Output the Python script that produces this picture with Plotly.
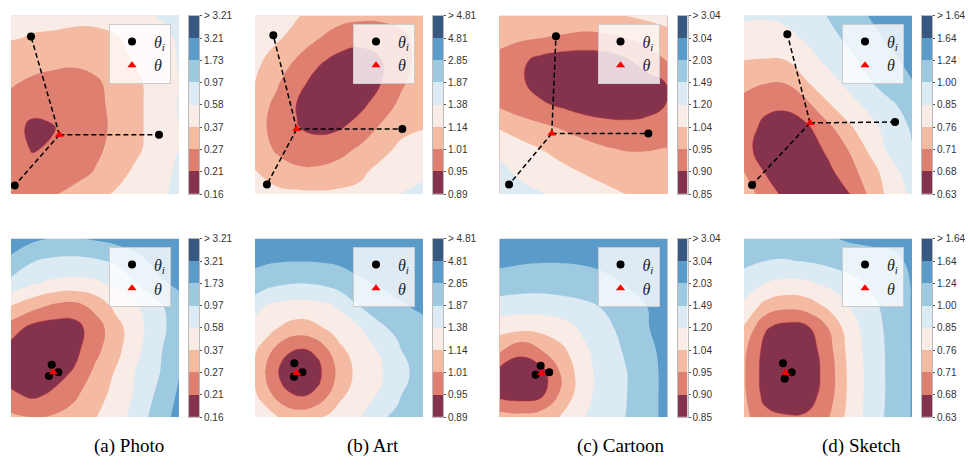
import numpy as np
import plotly.graph_objects as go

W, H = 968, 465

# ---------------- data ----------------
grid_x = [0.0, 0.125, 0.25, 0.375, 0.5, 0.625, 0.75, 0.875, 1.0]
grid_y = [1.0, 0.875, 0.75, 0.625, 0.5, 0.375, 0.25, 0.125, 0.0]  # rows below listed top -> bottom
# finer sampling used for the Art (bottom) landscape
fine_x = [0.0, 0.0625, 0.125, 0.1875, 0.25, 0.3125, 0.375, 0.4375, 0.5, 0.625, 0.75, 0.875, 1.0]
fine_y = [1.0, 0.875, 0.75, 0.625, 0.5, 0.4375, 0.375, 0.3125, 0.25, 0.1875, 0.125, 0.0625, 0.0]

# band colours (lowest loss -> highest loss)
band_colors = ["#85334c", "#de7f70", "#f5bba2", "#f9ebe5",
               "#dbeaf3", "#9dcae1", "#5a9bc9", "#375981"]

photo_ticks = ["0.16", "0.21", "0.27", "0.37", "0.58", "0.97", "1.73", "3.21", "> 3.21"]
art_ticks = ["0.89", "0.95", "1.01", "1.14", "1.38", "1.87", "2.85", "4.81", "> 4.81"]
cartoon_ticks = ["0.85", "0.90", "0.95", "1.04", "1.20", "1.49", "2.03", "3.04", "> 3.04"]
sketch_ticks = ["0.63", "0.68", "0.71", "0.76", "0.85", "1.00", "1.24", "1.64", "> 1.64"]

captions = ["(a) Photo", "(b) Art", "(c) Cartoon", "(d) Sketch"]

# loss landscape, expressed in colour-band position (0 = lowest band ... 8 = top of colourbar)
photo_top_level = [
    [3.25, 3.2, 3.2, 3.15, 3.15, 3.25, 3.5, 4.05, 4.3],
    [3.05, 2.95, 2.9, 2.85, 2.85, 2.95, 3.2, 3.7, 4.1],
    [2.6, 2.35, 2.2, 2.15, 2.3, 2.75, 3.1, 3.55, 4.05],
    [2.1, 1.85, 1.75, 1.7, 1.85, 2.3, 2.85, 3.4, 4.0],
    [1.7, 1.5, 1.35, 1.45, 1.75, 2.25, 2.8, 3.45, 4.05],
    [1.6, 0.7, 0.95, 1.4, 1.7, 2.2, 2.8, 3.45, 4.0],
    [1.45, 0.95, 1.1, 1.4, 1.8, 2.3, 2.85, 3.45, 4.0],
    [1.5, 1.3, 1.4, 1.6, 2.05, 2.65, 3.2, 3.7, 4.15],
    [1.6, 1.7, 1.9, 2.3, 2.75, 3.1, 3.45, 3.8, 4.2],
]
art_top_level = [
    [4.05, 3.6, 3.05, 2.7, 2.4, 2.25, 2.25, 2.35, 2.65],
    [3.55, 3.15, 2.65, 2.05, 1.5, 1.25, 1.35, 1.8, 2.4],
    [3.25, 2.6, 1.9, 1.16, 0.74, 0.67, 0.98, 1.67, 2.38],
    [3.0, 2.16, 1.3, 0.66, 0.2, 0.48, 1.0, 1.86, 2.57],
    [2.55, 1.78, 0.96, 0.48, 0.35, 0.77, 1.46, 2.27, 2.8],
    [2.4, 1.68, 1.03, 0.79, 0.89, 1.38, 2.12, 2.73, 2.95],
    [2.55, 1.9, 1.5, 1.41, 1.68, 2.16, 2.7, 3.25, 3.4],
    [3.05, 2.45, 2.2, 2.2, 2.4, 2.8, 3.3, 3.55, 3.8],
    [3.45, 3.3, 3.2, 3.15, 3.2, 3.25, 3.4, 4.05, 4.3],
]
cartoon_top_level = [
    [2.8, 2.65, 2.55, 2.55, 2.6, 2.75, 3.0, 3.2, 3.4],
    [2.3, 2.15, 2.0, 1.9, 1.75, 1.8, 2.0, 2.3, 2.6],
    [1.7, 1.2, 0.7, 0.45, 0.4, 0.5, 0.85, 1.5, 2.05],
    [1.4, 1.15, 0.55, 0.35, 0.3, 0.3, 0.4, 0.6, 1.05],
    [1.85, 1.4, 1.15, 0.85, 0.55, 0.4, 0.4, 0.6, 1.05],
    [2.9, 2.55, 2.2, 1.9, 1.6, 1.4, 1.3, 1.35, 1.55],
    [3.85, 3.35, 3.0, 2.7, 2.35, 2.1, 1.95, 1.95, 2.05],
    [4.2, 3.85, 3.5, 3.2, 2.95, 2.75, 2.6, 2.6, 2.65],
    [4.3, 4.2, 4.05, 3.75, 3.45, 3.2, 3.0, 2.9, 2.9],
]
sketch_top_level = [
    [4.15, 4.1, 4.2, 4.4, 5.05, 5.55, 6.05, 6.5, 6.8],
    [3.6, 3.55, 3.75, 4.15, 4.7, 5.2, 5.7, 6.2, 6.5],
    [3.0, 2.95, 3.0, 3.6, 4.25, 4.8, 5.3, 5.8, 6.3],
    [2.35, 2.05, 2.05, 2.95, 3.55, 4.3, 4.95, 5.5, 5.95],
    [1.6, 1.2, 1.2, 1.75, 2.9, 3.6, 4.3, 4.85, 5.4],
    [1.4, 0.8, 0.5, 0.85, 1.75, 2.85, 3.65, 4.5, 5.1],
    [1.3, 0.6, 0.35, 0.45, 1.2, 2.05, 3.2, 4.3, 4.95],
    [2.0, 0.95, 0.4, 0.35, 0.75, 1.6, 2.55, 3.6, 4.6],
    [2.5, 1.6, 0.7, 0.4, 0.6, 0.95, 2.2, 3.4, 4.2],
]
photo_bottom_level = [
    [6.5, 6.2, 5.95, 5.9, 6.1, 6.3, 6.45, 6.6, 6.7],
    [5.8, 5.05, 4.8, 4.75, 4.85, 5.15, 5.75, 6.25, 6.5],
    [4.7, 4.1, 3.8, 3.7, 3.8, 4.2, 5.0, 5.8, 6.2],
    [3.0, 2.4, 1.85, 1.65, 2.3, 3.3, 3.95, 4.8, 5.6],
    [1.5, 0.7, 0.5, 0.6, 1.5, 2.6, 3.7, 4.6, 5.6],
    [0.6, 0.4, 0.3, 0.7, 1.7, 2.7, 3.8, 4.8, 5.8],
    [0.5, 0.35, 0.6, 1.1, 2.2, 3.1, 4.1, 4.9, 5.95],
    [1.2, 0.8, 1.15, 1.8, 2.6, 3.3, 4.2, 5.2, 6.15],
    [2.2, 2.0, 2.1, 2.4, 2.95, 3.6, 4.4, 5.55, 6.3],
]
art_bottom_level = [
    [6.59, 6.53, 6.48, 6.45, 6.43, 6.44, 6.46, 6.5, 6.55, 6.68, 6.8, 6.88, 6.9],
    [6.2, 6.13, 6.07, 6.03, 6.02, 6.02, 6.05, 6.09, 6.15, 6.31, 6.44, 6.57, 6.69],
    [5.57, 5.35, 5.17, 5.06, 5.0, 5.02, 5.09, 5.23, 5.42, 5.87, 6.11, 6.26, 6.39],
    [4.46, 3.99, 3.81, 3.69, 3.64, 3.65, 3.73, 3.87, 4.14, 5.05, 5.53, 5.95, 6.13],
    [3.59, 3.3, 3.06, 2.76, 2.58, 2.62, 2.87, 3.14, 3.4, 3.95, 4.84, 5.39, 5.81],
    [3.33, 3.0, 2.39, 1.93, 1.72, 1.77, 2.07, 2.59, 3.11, 3.72, 4.43, 5.18, 5.62],
    [3.12, 2.46, 1.75, 1.2, 0.94, 0.98, 1.37, 1.99, 2.74, 3.55, 4.12, 5.02, 5.48],
    [2.96, 2.1, 1.3, 0.77, 0.49, 0.56, 0.9, 1.59, 2.4, 3.44, 3.96, 4.86, 5.39],
    [2.86, 1.97, 1.13, 0.61, 0.15, 0.31, 0.78, 1.43, 2.29, 3.4, 3.93, 4.8, 5.36],
    [2.96, 2.1, 1.3, 0.77, 0.49, 0.56, 0.9, 1.59, 2.4, 3.44, 3.96, 4.86, 5.39],
    [3.12, 2.46, 1.75, 1.2, 0.94, 0.98, 1.37, 1.99, 2.74, 3.55, 4.12, 5.02, 5.48],
    [3.33, 3.0, 2.39, 1.93, 1.72, 1.77, 2.07, 2.59, 3.11, 3.72, 4.43, 5.18, 5.62],
    [3.59, 3.3, 3.06, 2.76, 2.58, 2.62, 2.87, 3.14, 3.4, 3.95, 4.84, 5.39, 5.81],
]
cartoon_bottom_level = [
    [6.6, 6.5, 6.45, 6.45, 6.5, 6.6, 6.7, 6.8, 6.9],
    [6.2, 6.1, 6.05, 6.05, 6.1, 6.25, 6.4, 6.55, 6.7],
    [5.6, 5.5, 5.45, 5.5, 5.6, 5.75, 6.05, 6.3, 6.5],
    [4.55, 4.45, 4.45, 4.6, 4.8, 5.1, 5.5, 6.0, 6.35],
    [3.4, 3.3, 3.35, 3.6, 4.2, 4.75, 5.3, 5.95, 6.3],
    [2.2, 1.25, 2.0, 2.8, 3.8, 4.55, 5.1, 5.75, 6.3],
    [0.6, 0.4, 0.6, 2.2, 3.6, 4.45, 4.95, 5.6, 6.3],
    [0.7, 0.5, 0.8, 2.3, 3.65, 4.45, 4.95, 5.6, 6.3],
    [2.4, 2.3, 2.5, 3.1, 3.95, 4.55, 5.0, 5.6, 6.3],
]
sketch_bottom_level = [
    [5.3, 5.35, 5.45, 5.65, 5.9, 6.1, 6.15, 6.15, 6.2],
    [5.2, 5.0, 4.95, 5.05, 5.25, 5.5, 5.7, 5.85, 6.1],
    [4.6, 4.0, 3.75, 3.85, 4.2, 4.65, 5.1, 5.5, 6.05],
    [3.75, 2.7, 2.3, 2.5, 3.2, 4.0, 4.75, 5.35, 6.05],
    [2.9, 1.1, 0.6, 0.8, 2.0, 3.5, 4.5, 5.3, 6.05],
    [2.2, 0.7, 0.3, 0.4, 1.6, 3.3, 4.4, 5.25, 6.05],
    [2.1, 0.6, 0.2, 0.35, 1.4, 3.2, 4.35, 5.25, 6.05],
    [2.15, 0.7, 0.3, 0.5, 1.5, 3.2, 4.35, 5.25, 6.05],
    [2.3, 1.3, 1.1, 1.15, 1.9, 3.3, 4.4, 5.3, 6.05],
]

# client models (theta_i) and aggregated model (theta), in plane coordinates
photo_top_clients_x = [0.119, 0.881, 0.022]
photo_top_clients_y = [0.884, 0.333, 0.048]
photo_top_global = [0.288, 0.333]
art_top_clients_x = [0.109, 0.877, 0.071]
art_top_clients_y = [0.891, 0.364, 0.053]
art_top_global = [0.248, 0.364]
cartoon_top_clients_x = [0.336, 0.886, 0.057]
cartoon_top_clients_y = [0.885, 0.339, 0.053]
cartoon_top_global = [0.311, 0.339]
sketch_top_clients_x = [0.258, 0.899, 0.048]
sketch_top_clients_y = [0.896, 0.404, 0.051]
sketch_top_global = [0.393, 0.399]

photo_bottom_clients_x = [0.242, 0.282, 0.226]
photo_bottom_clients_y = [0.293, 0.251, 0.230]
photo_bottom_global = [0.252, 0.251]
art_bottom_clients_x = [0.234, 0.282, 0.232]
art_bottom_clients_y = [0.302, 0.251, 0.226]
art_bottom_global = [0.248, 0.248]
cartoon_bottom_clients_x = [0.245, 0.296, 0.215]
cartoon_bottom_clients_y = [0.288, 0.251, 0.237]
cartoon_bottom_global = [0.251, 0.248]
sketch_bottom_clients_x = [0.232, 0.284, 0.242]
sketch_bottom_clients_y = [0.302, 0.251, 0.215]
sketch_bottom_global = [0.248, 0.248]

# ---------------- layout geometry (pixels) ----------------
col_left = [11, 255, 499.5, 744]
row_top = [10, 239]
plot_w, plot_h = 168, 183
cb_gap, cb_w = 10, 10
caption_x = [129, 373, 621, 861]
caption_y = 452

panels = [
    (photo_top_level, grid_x, grid_y, photo_ticks, photo_top_clients_x, photo_top_clients_y, photo_top_global, 0, 0, True),
    (art_top_level, grid_x, grid_y, art_ticks, art_top_clients_x, art_top_clients_y, art_top_global, 1, 0, True),
    (cartoon_top_level, grid_x, grid_y, cartoon_ticks, cartoon_top_clients_x, cartoon_top_clients_y, cartoon_top_global, 2, 0, True),
    (sketch_top_level, grid_x, grid_y, sketch_ticks, sketch_top_clients_x, sketch_top_clients_y, sketch_top_global, 3, 0, True),
    (photo_bottom_level, grid_x, grid_y, photo_ticks, photo_bottom_clients_x, photo_bottom_clients_y, photo_bottom_global, 0, 1, False),
    (art_bottom_level, fine_x, fine_y, art_ticks, art_bottom_clients_x, art_bottom_clients_y, art_bottom_global, 1, 1, False),
    (cartoon_bottom_level, grid_x, grid_y, cartoon_ticks, cartoon_bottom_clients_x, cartoon_bottom_clients_y, cartoon_bottom_global, 2, 1, False),
    (sketch_bottom_level, grid_x, grid_y, sketch_ticks, sketch_bottom_clients_x, sketch_bottom_clients_y, sketch_bottom_global, 3, 1, False),
]

n_bands = len(band_colors)
scale = [[i / (n_bands - 1), c] for i, c in enumerate(band_colors)]

fig = go.Figure()
layout = dict(width=W, height=H, margin=dict(l=0, r=0, t=0, b=0),
              paper_bgcolor="white", plot_bgcolor="white", showlegend=True)


def px_x(p):
    return p / W


def px_y(p):
    return 1 - p / H


hidden = dict(showgrid=False, zeroline=False, showticklabels=False, ticks="",
              showline=False, range=[0, 1], fixedrange=True)

for k, (lvl, gx, gy, ticks, cx, cy, g, col, row, dashed) in enumerate(panels):
    i = k + 1
    ax = "" if i == 1 else str(i)
    left = col_left[col]
    top = row_top[row]
    layout["xaxis" + ax] = dict(hidden, domain=[px_x(left), px_x(left + plot_w)], anchor="y" + ax)
    layout["yaxis" + ax] = dict(hidden, domain=[px_y(top + plot_h), px_y(top)], anchor="x" + ax)
    z = np.array(lvl)[::-1]
    ys = list(gy)[::-1]
    fig.add_trace(go.Contour(
        x=gx, y=ys, z=z, xaxis="x" + ax, yaxis="y" + ax,
        autocontour=False,
        contours=dict(start=1, end=n_bands - 1, size=1, coloring="fill", showlines=False),
        line=dict(width=0, smoothing=1.3),
        colorscale=scale, showscale=False, hoverinfo="skip", showlegend=False))
    # thin crimson edge of the lowest-loss region
    fig.add_trace(go.Contour(
        x=gx, y=ys, z=z, xaxis="x" + ax, yaxis="y" + ax,
        autocontour=False,
        contours=dict(start=1, end=1, size=1, coloring="none", showlines=True),
        line=dict(width=0.8, color="rgba(190,40,60,0.55)", smoothing=1.3),
        showscale=False, hoverinfo="skip", showlegend=False))
    leg = "legend" if i == 1 else "legend" + str(i)
    if dashed:
        lx, ly = [], []
        for a, b in zip(cx, cy):
            lx += [g[0], a, None]
            ly += [g[1], b, None]
        fig.add_trace(go.Scatter(x=lx, y=ly, mode="lines", xaxis="x" + ax, yaxis="y" + ax,
                                 line=dict(color="black", width=1.5, dash="5px,3px"),
                                 showlegend=False, hoverinfo="skip"))
    fig.add_trace(go.Scatter(x=cx, y=cy, mode="markers", xaxis="x" + ax, yaxis="y" + ax,
                             marker=dict(color="black", size=8, symbol="circle"),
                             name="<i>θ</i><sub><i>i</i></sub>", legend=leg, hoverinfo="skip"))
    fig.add_trace(go.Scatter(x=[g[0]], y=[g[1]], mode="markers", xaxis="x" + ax, yaxis="y" + ax,
                             marker=dict(color="red", size=8, symbol="triangle-up"),
                             name="<i>θ</i>", legend=leg, hoverinfo="skip"))
    layout[leg] = dict(x=px_x(left + plot_w - 8), y=px_y(top + 8), xanchor="right", yanchor="top",
                       bgcolor="rgba(255,255,255,0.8)", bordercolor="#cccccc", borderwidth=1,
                       font=dict(family="Liberation Serif", size=16, color="#222"),
                       itemwidth=34, traceorder="normal", tracegroupgap=0)

    # colour bar as its own small axes
    j = i + 8
    cbx, cby = "x" + str(j), "y" + str(j)
    cl = left + plot_w + cb_gap
    layout["xaxis" + str(j)] = dict(domain=[px_x(cl), px_x(cl + cb_w)], anchor=cby, range=[0, 1],
                                    showgrid=False, zeroline=False, showticklabels=False, ticks="",
                                    showline=True, mirror=True, linecolor="#bbbbbb", linewidth=1,
                                    fixedrange=True)
    layout["yaxis" + str(j)] = dict(domain=[px_y(top + plot_h), px_y(top)], anchor=cbx, side="right",
                                    range=[0, n_bands], tickmode="array",
                                    tickvals=list(range(n_bands + 1)), ticktext=ticks,
                                    ticks="outside", ticklen=2, tickwidth=1, tickcolor="#555555",
                                    tickfont=dict(family="Liberation Sans", size=10, color="#333333"),
                                    showgrid=False, zeroline=False,
                                    showline=True, mirror=True, linecolor="#bbbbbb", linewidth=1,
                                    fixedrange=True)
    fig.add_trace(go.Heatmap(z=[[b] for b in range(n_bands)], x=[0.5],
                             y=[b + 0.5 for b in range(n_bands)],
                             xaxis=cbx, yaxis=cby, colorscale=scale, zmin=0, zmax=n_bands - 1,
                             showscale=False, hoverinfo="skip"))

annotations = []
for cxp, text in zip(caption_x, captions):
    annotations.append(dict(x=px_x(cxp), y=px_y(caption_y), xref="paper", yref="paper",
                            text=text, showarrow=False, xanchor="center", yanchor="middle",
                            font=dict(family="Liberation Serif", size=19, color="black")))
layout["annotations"] = annotations

fig.update_layout(**layout)
fig.write_html("out.html", config={"displayModeBar": False},
               post_script="document.body.style.margin='0px';")
